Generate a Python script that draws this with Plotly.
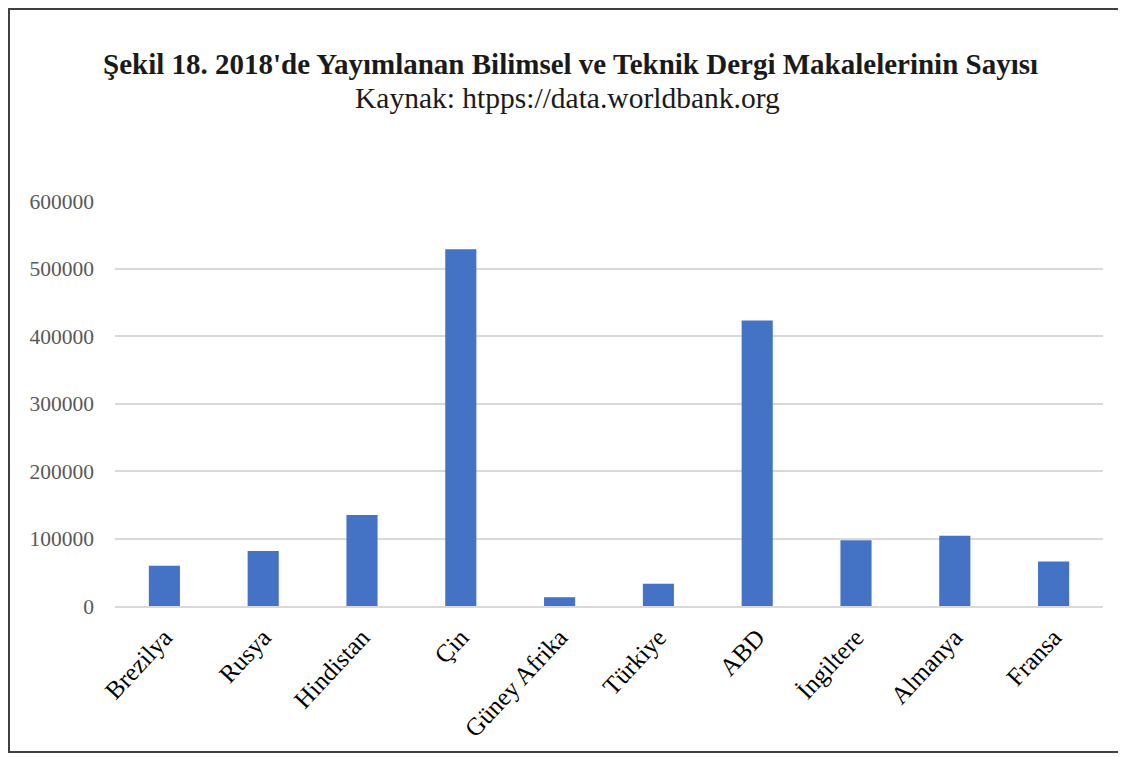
import plotly.graph_objects as go

categories = ["Brezilya", "Rusya", "Hindistan", "Çin", "Güney Afrika", "Türkiye",
              "ABD", "İngiltere", "Almanya", "Fransa"]
values = [59500, 81500, 135000, 528500, 13000, 33000, 423000, 97500, 104000, 66000]
y_ticks = [0, 100000, 200000, 300000, 400000, 500000, 600000]

title_text = "<b>Şekil 18. 2018'de Yayımlanan Bilimsel ve Teknik Dergi Makalelerinin Sayısı</b>"
subtitle_text = "Kaynak: htpps://data.worldbank.org"

OFF = 8  # page body margin
W, H = 1126 - OFF, 757 - OFF
# target page-pixel plot area: x 115..1103, y 201..606
L, T = 115 - OFF, 201 - OFF
R = W - (1103 - OFF)
B = H - (606 - OFF)
pw, ph = W - L - R, H - T - B

def px_x(p):
    return (p - OFF - L) / pw

def px_y(p):
    return (H - B - (p - OFF)) / ph

serif = "Liberation Serif, Times New Roman, serif"
frame = dict(color="#404040", width=2)

fig = go.Figure(go.Bar(x=categories, y=values, marker_color="#4472C4",
                       marker_line_width=0))

fig.update_layout(
    width=W, height=H,
    margin=dict(l=L, r=R, t=T, b=B, autoexpand=False),
    paper_bgcolor="white", plot_bgcolor="white",
    bargap=0.685,
    showlegend=False,
    font=dict(family=serif),
    xaxis=dict(tickangle=-47, tickfont=dict(family=serif, size=25, color="#000000"),
               showline=True, linecolor="#d9d9d9", linewidth=1.5, ticks="",
               showgrid=False, ticklabelstandoff=5),
    yaxis=dict(range=[0, 600000], tickvals=y_ticks,
               ticktext=[str(v) for v in y_ticks],
               tickfont=dict(family=serif, size=21.5, color="#595959"),
               showgrid=True, gridcolor="#d9d9d9", gridwidth=1.5,
               zeroline=False, showline=False, ticks="", ticklabelstandoff=20),
    annotations=[
        dict(text=title_text, x=px_x(570), y=px_y(64), xref="paper", yref="paper",
             showarrow=False, xanchor="center", yanchor="middle",
             font=dict(family=serif, size=29, color="#1a1a1a")),
        dict(text=subtitle_text, x=px_x(567), y=px_y(98), xref="paper", yref="paper",
             showarrow=False, xanchor="center", yanchor="middle",
             font=dict(family=serif, size=29.5, color="#1a1a1a")),
    ],
    shapes=[
        dict(type="line", xref="paper", yref="paper",
             x0=px_x(9), x1=px_x(9), y0=px_y(752), y1=px_y(9), line=frame, layer="above"),
        dict(type="line", xref="paper", yref="paper",
             x0=px_x(8), x1=px_x(1126), y0=px_y(9), y1=px_y(9), line=frame, layer="above"),
        dict(type="line", xref="paper", yref="paper",
             x0=px_x(8), x1=px_x(1126), y0=px_y(752), y1=px_y(752), line=frame, layer="above"),
    ],
)

fig.write_html("out.html")
